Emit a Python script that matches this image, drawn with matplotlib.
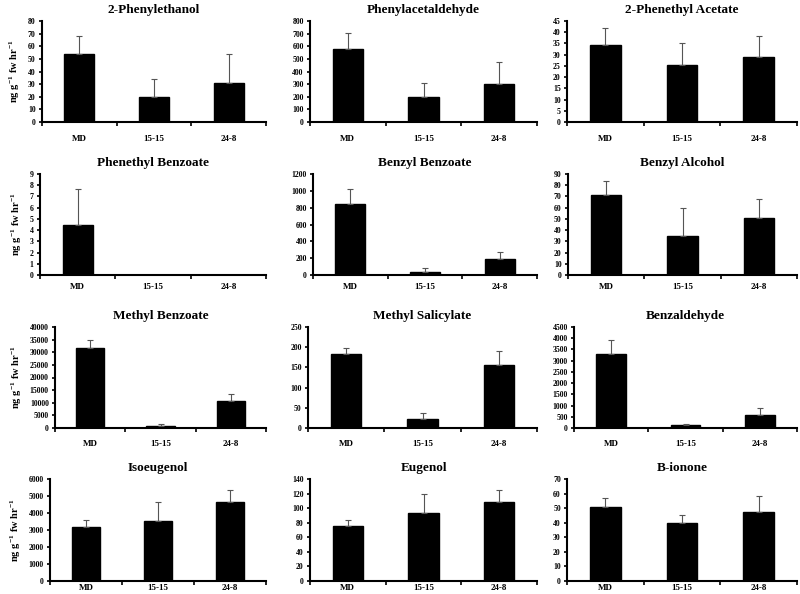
#volatile emission bar charts

#importing the libraries
import numpy as np
import matplotlib
matplotlib.use('Agg')
import matplotlib.pyplot as plt
from matplotlib.ticker import FixedLocator

plt.rcParams['font.family'] = 'Liberation Serif'
plt.rcParams['font.weight'] = 'bold'
plt.rcParams['mathtext.fontset'] = 'custom'
plt.rcParams['mathtext.rm'] = 'Liberation Serif:bold'
plt.rcParams['mathtext.bf'] = 'Liberation Serif:bold'
plt.rcParams['mathtext.it'] = 'Liberation Serif:bold'

#the data
groups = ['MD', '15-15', '24-8']
titles = ['2-Phenylethanol', 'Phenylacetaldehyde', '2-Phenethyl Acetate',
          'Phenethyl Benzoate', 'Benzyl Benzoate', 'Benzyl Alcohol',
          'Methyl Benzoate', 'Methyl Salicylate', 'Benzaldehyde',
          'Isoeugenol', 'Eugenol', 'B-ionone']
means = [[54, 19.5, 30.5],
         [580, 200, 300],
         [34.5, 25.5, 29],
         [4.5, 0, 0],
         [845, 30, 195],
         [71, 35, 50.5],
         [31800, 900, 10500],
         [182, 22, 156],
         [3300, 120, 600],
         [3200, 3550, 4650],
         [75, 93, 109],
         [50.5, 40, 47.5]]
errors = [[14, 14.5, 23.5],
          [125, 105, 178],
          [7.5, 9.5, 9.5],
          [3.2, 0, 0],
          [175, 55, 75],
          [13, 24.5, 17.5],
          [2900, 700, 2800],
          [17, 14, 35],
          [600, 80, 280],
          [380, 1100, 720],
          [9, 26, 16],
          [6.5, 5.5, 10.5]]
ymax = [80, 800, 45, 9, 1200, 90, 40000, 250, 4500, 6000, 140, 70]
ystep = [10, 100, 5, 1, 200, 10, 5000, 50, 500, 1000, 20, 10]

#axes boxes in pixels (left, right) per panel, (top, bottom) per row
col_lr = [[(42, 266), (310, 537), (567, 797)],
          [(40, 266), (313, 537), (568, 797)],
          [(55, 266), (308, 537), (574, 797)],
          [(50, 266), (310, 537), (567, 797)]]
row_tb = [(21, 122), (174, 275), (327, 428), (479, 581)]
xpad = [9, 6, 9, 2.5]

W, H = 800, 594
fig = plt.figure(figsize=(8, 5.94), dpi=100)
x = np.arange(len(groups))

for i in range(12):
    r, c = divmod(i, 3)
    l, rr = col_lr[r][c]
    t, b = row_tb[r]
    ax = fig.add_axes([l / W, 1 - b / H, (rr - l) / W, (b - t) / H])
    yerr = np.array([np.zeros(3), errors[i]])
    ax.bar(x, means[i], width=0.4, color='black', edgecolor='black')
    ax.errorbar(x, means[i], yerr=yerr, fmt='none', ecolor='#555555',
                elinewidth=0.8, capsize=2, capthick=0.8)
    ax.set_xlim(-0.5, 2.5)
    ax.set_ylim(0, ymax[i])
    ax.set_yticks(np.arange(0, ymax[i] + ystep[i] / 2, ystep[i]))
    ax.set_xticks(x)
    ax.set_xticklabels(groups)
    ax.xaxis.set_minor_locator(FixedLocator([-0.5, 0.5, 1.5, 2.5]))
    ax.tick_params(axis='x', which='major', length=0, labelsize=6.5, pad=xpad[r])
    ax.tick_params(axis='x', which='minor', length=3, width=1.2, direction='out')
    ax.tick_params(axis='y', length=2.5, width=1.2, direction='out', labelsize=5.6, pad=2)
    for lbl in ax.get_xticklabels() + ax.get_yticklabels():
        lbl.set_fontweight('bold')
    ax.spines['top'].set_visible(False)
    ax.spines['right'].set_visible(False)
    ax.spines['left'].set_linewidth(1.5)
    ax.spines['bottom'].set_linewidth(1.5)
    ax.set_title(titles[i], fontsize=9.5, fontweight='bold', pad=6)
    if c == 0:
        ax.set_ylabel(r'$\mathrm{ng\ g^{-1}\ fw\ hr^{-1}}$', fontsize=7.5, labelpad=4)

fig.savefig('out.png', dpi=100)
